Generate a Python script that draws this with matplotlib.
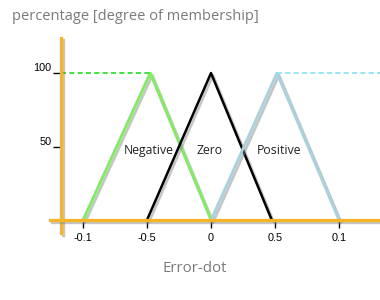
import matplotlib
matplotlib.use('Agg')
import matplotlib.pyplot as plt
import matplotlib.patheffects as pe

# membership functions (x in tick-slot units, y in percent)
neg_x = [-2, -0.95, 0]
neg_y = [0, 100, 0]
zero_x = [-1, 0, 0.95]
zero_y = [0, 100, 0]
pos_x = [0, 1.03, 2]
pos_y = [0, 100, 0]

tick_pos = [-2, -1, 0, 1, 2]
tick_labels = ['-0.1', '-0.5', '0', '0.5', '0.1']
ytick_pos = [50, 100]
ytick_labels = ['50', '100']

orange = '#F5B52A'
shadow = [pe.SimpleLineShadow(offset=(1.5, -1.5), shadow_color='gray', alpha=0.45), pe.Normal()]

fig = plt.figure(figsize=(3.8, 3.0), dpi=100)
ax = fig.add_axes([0, 0, 1, 1])
ax.set_xlim(-3.297, 2.641)
ax.set_ylim(-54.4, 149.7)
ax.patch.set_alpha(0)

ax.plot(neg_x, neg_y, color='#7FEE5E', lw=2, path_effects=shadow)
ax.plot(zero_x, zero_y, color='black', lw=1.8, path_effects=shadow)
ax.plot(pos_x, pos_y, color='#A9D2DE', lw=2, path_effects=shadow)

ax.plot([-2.34, neg_x[1]], [100, 100], color='#22DD22', lw=1.2, ls=(0, (3, 2)))
ax.plot([pos_x[1], 2.7], [100, 100], color='#88E2F2', lw=1.2, ls=(0, (3, 2)))

ax.text(-0.98, 47.5, 'Negative', ha='center', va='center', fontsize=8.8, family='Open Sans', color='#222222')
ax.text(-0.03, 47.5, 'Zero', ha='center', va='center', fontsize=8.8, family='Open Sans', color='#222222')
ax.text(1.06, 47.5, 'Positive', ha='center', va='center', fontsize=8.8, family='Open Sans', color='#222222')

for s in ['top', 'right']:
    ax.spines[s].set_visible(False)
ax.spines['left'].set_position(('data', -2.34))
ax.spines['bottom'].set_position(('data', 0))
ax.spines['left'].set_bounds(-9, 124)
ax.spines['bottom'].set_bounds(-2.52, 2.7)
for s in ['left', 'bottom']:
    ax.spines[s].set_color(orange)
    ax.spines[s].set_linewidth(2.4)
    ax.spines[s].set_path_effects(shadow)

ax.set_xticks(tick_pos, tick_labels)
ax.set_yticks(ytick_pos, ytick_labels)
ax.tick_params(axis='x', length=6, width=1, color='black', pad=3, labelsize=7.8)
ax.tick_params(axis='y', length=6, width=1, color='black', pad=1, labelsize=7.8)
for lab in ax.get_xticklabels() + ax.get_yticklabels():
    lab.set_family('Liberation Sans')
for lab in ax.get_yticklabels():
    lab.set_verticalalignment('bottom')

fig.text(12 / 380, 1 - 16 / 300, 'percentage [degree of membership]', ha='left', va='center',
         fontsize=10.5, family='Open Sans', color='#7A7A7A')
fig.text(195 / 380, 1 - 268 / 300, 'Error-dot', ha='center', va='center',
         fontsize=10.8, family='Open Sans', color='#7A7A7A')

fig.savefig('out.png', dpi=100)
